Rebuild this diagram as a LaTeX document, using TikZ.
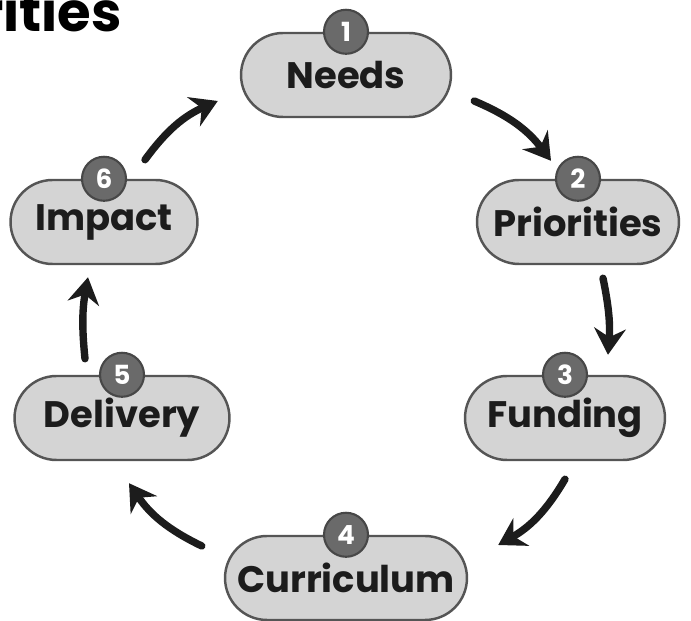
\documentclass[tikz,border=0pt]{standalone}
\usepackage{fontspec}
\setmainfont{Poppins}
\usetikzlibrary{arrows.meta,shapes.misc}

\definecolor{pillfill}{HTML}{D4D4D4}
\definecolor{pillline}{HTML}{555555}
\definecolor{badgefill}{HTML}{6A6A6A}
\definecolor{badgeline}{HTML}{474747}
\definecolor{inkblack}{HTML}{1C1C1C}

\tikzset{
  stage/.style={rounded rectangle, draw=pillline, fill=pillfill, line width=1.4pt,
                text=inkblack, minimum height=1.68cm, inner sep=0pt,
                font=\bfseries\fontsize{21}{21}\selectfont},
  badge/.style={circle, draw=badgeline, fill=badgefill, line width=1.2pt, text=white,
                minimum size=0.88cm, inner sep=0pt, font=\bfseries\fontsize{15}{15}\selectfont},
  flow/.style={-{Stealth[length=15pt, width=18pt, inset=5pt]}, line width=4.2pt,
               line cap=round, draw=inkblack},
}

\begin{document}
\begin{tikzpicture}[x=0.02cm, y=-0.02cm]
  \useasboundingbox (0,0) rectangle (691,621);

  % heading, cut at the page edge
  \node[anchor=base east, inner sep=0pt, text=black,
        font=\bfseries\fontsize{31}{31}\selectfont] (title) at (122,32) {Priorities};

  % Stages round the cycle
  \node[stage, minimum width=4.20cm] (needs)  at (346,75)  {Needs};
  \node[stage, minimum width=4.04cm] (prior)  at (578,222) {Priorities};
  \node[stage, minimum width=4.00cm] (fund)   at (565,418) {Funding};
  \node[stage, minimum width=4.84cm] (curr)   at (346,578) {Curriculum};
  \node[stage, minimum width=4.30cm] (deliv)  at (122,418) {Delivery};
  \node[stage, minimum width=3.74cm] (impact) at (104,222) {Impact};

  % Numbers on top of each stage
  \node[badge] (b1) at (needs.north)  {1};
  \node[badge] (b2) at (prior.north)  {2};
  \node[badge] (b3) at (fund.north)   {3};
  \node[badge] (b4) at (curr.north)   {4};
  \node[badge] (b5) at (deliv.north)  {5};
  \node[badge] (b6) at (impact.north) {6};

  % Arrows, clockwise
  \draw[flow] ([shift={(22,26)}]needs.east) to[bend left=15] ([shift={(-27,-18)}]prior.north);
  \draw[flow] ([shift={(25,13)}]prior.south) to[bend left=8] ([shift={(43,-20)}]fund.north);
  \draw[flow] ([shift={(0,18)}]fund.south) to[bend left=15] ([shift={(30,-33)}]curr.east);
  \draw[flow] ([shift={(-22,-32)}]curr.west) to[bend left=15] ([shift={(7,22)}]deliv.south);
  \draw[flow] ([shift={(-37,-16)}]deliv.north) to[bend left=8] ([shift={(-16,12)}]impact.south);
  \draw[flow] ([shift={(41,-19)}]impact.north) to[bend left=15] ([shift={(-22,26)}]needs.west);
\end{tikzpicture}
\end{document}
